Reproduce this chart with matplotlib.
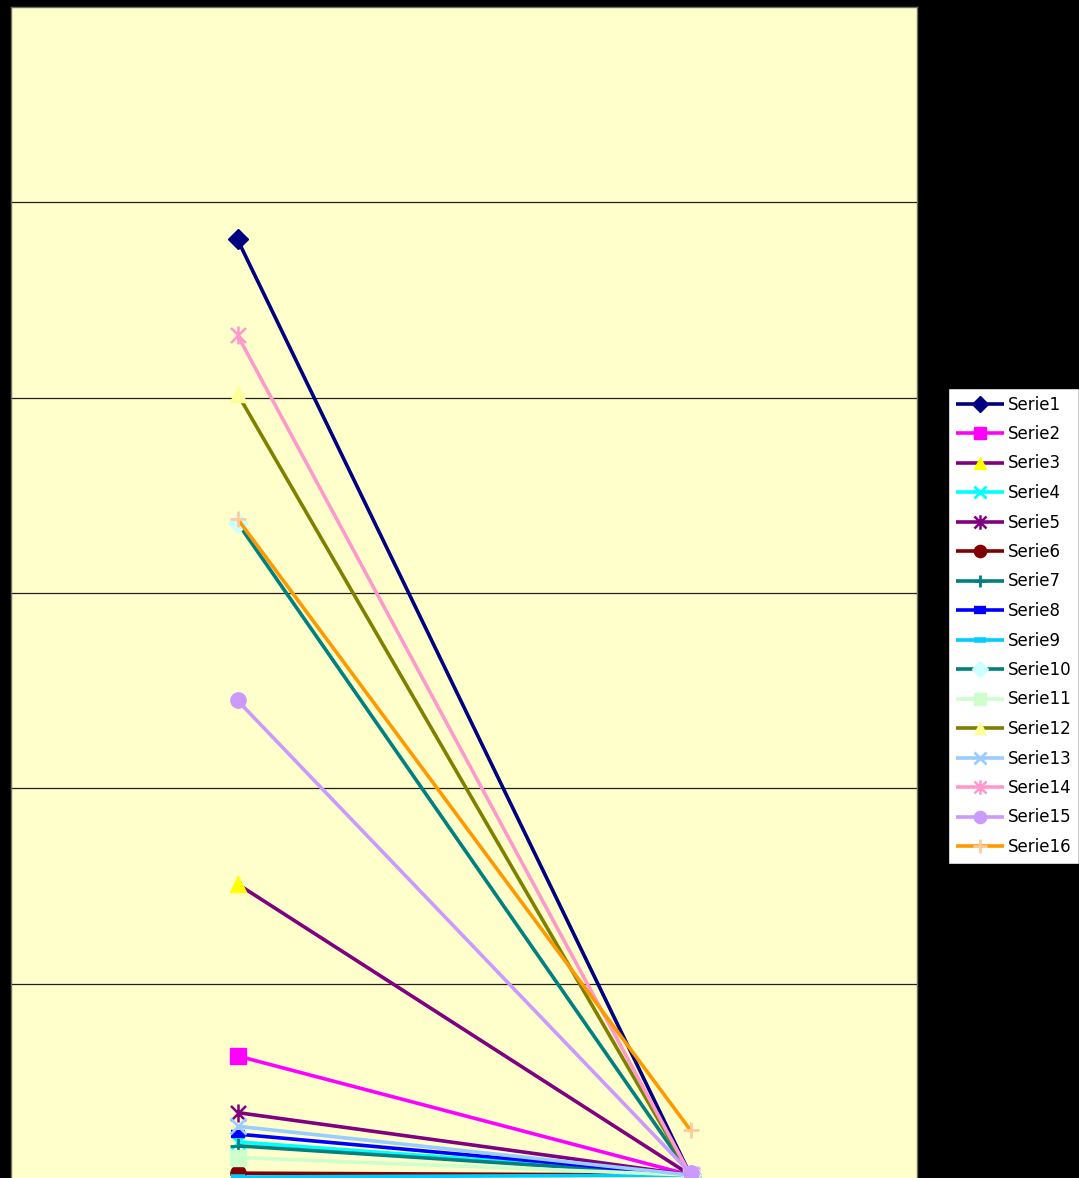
import matplotlib
matplotlib.use("Agg")
import matplotlib.pyplot as plt
from matplotlib.path import Path

# Two categories, sixteen series
categories = ["1", "2"]
series_names = [f"Serie{i}" for i in range(1, 17)]

serie1 = [4.81, 0.02]
serie2 = [0.63, 0.02]
serie3 = [1.51, 0.02]
serie4 = [0.19, 0.02]
serie5 = [0.34, 0.02]
serie6 = [0.03, 0.02]
serie7 = [0.17, 0.02]
serie8 = [0.23, 0.02]
serie9 = [0.01, 0.02]
serie10 = [3.36, 0.02]
serie11 = [0.11, 0.02]
serie12 = [4.02, 0.02]
serie13 = [0.27, 0.02]
serie14 = [4.32, 0.02]
serie15 = [2.45, 0.03]
serie16 = [3.38, 0.25]

values = [serie1, serie2, serie3, serie4, serie5, serie6, serie7, serie8,
          serie9, serie10, serie11, serie12, serie13, serie14, serie15, serie16]

# Asterisk marker: an X crossed by a vertical stroke
ASTER = Path([(-1, -1), (1, 1), (-1, 1), (1, -1), (0, -1.2), (0, 1.2)],
             [Path.MOVETO, Path.LINETO, Path.MOVETO, Path.LINETO,
              Path.MOVETO, Path.LINETO])

# (line colour, marker, marker face colour, marker size, marker edge width)
styles = [
    ("#000080", "D", "#000080", 10, 1),
    ("#FF00FF", "s", "#FF00FF", 11, 1),
    ("#800080", "^", "#FFFF00", 11, 1),
    ("#00FFFF", "x", "#00FFFF", 10, 2),
    ("#800080", ASTER, "#800080", 13, 1.8),
    ("#800000", "o", "#800000", 11, 1),
    ("#008080", "+", "#008080", 11, 2),
    ("#0000FF", "_", "#0000FF", 10, 6),
    ("#00CCFF", "_", "#00CCFF", 10, 4),
    ("#008080", "D", "#CCFFFF", 10, 1),
    ("#CCFFCC", "s", "#CCFFCC", 11, 1),
    ("#808000", "^", "#FFFF99", 11, 1),
    ("#99CCFF", "x", "#99CCFF", 11, 2),
    ("#FF99CC", ASTER, "#FF99CC", 13, 1.8),
    ("#CC99FF", "o", "#CC99FF", 11, 1),
    ("#FF9900", "+", "#FFCC99", 12, 2),
]

W, H = 1079, 1178
fig = plt.figure(figsize=(W / 100, H / 100), dpi=100, facecolor="black")

left, right, top, bottom = 11, 917, 7, 1179
ax = fig.add_axes([left / W, 1 - bottom / H, (right - left) / W, (bottom - top) / H])
ax.set_facecolor("#FFFFCC")

x = list(range(len(categories)))
for name, vals, (lc, mk, mfc, ms, mew) in zip(series_names, values, styles):
    mec = mfc
    ax.plot(x, vals, color=lc, linewidth=2.6, marker=mk, markersize=ms,
            markerfacecolor=mfc, markeredgecolor=mec, markeredgewidth=mew,
            label=name, clip_on=False, solid_capstyle="butt")

ax.set_xlim(-0.5, 1.5)
ax.set_ylim(0, 6)
for g in range(1, 6):
    ax.axhline(g, color="#202020", linewidth=0.9, zorder=0)
ax.set_xticks([])
ax.set_yticks([])
for s in ax.spines.values():
    s.set_color("#707060")
    s.set_linewidth(1)

leg = fig.legend(loc="upper left", bbox_to_anchor=(948 / W, 1 - 388 / H),
                 borderaxespad=0, frameon=True, fancybox=False,
                 edgecolor="black", facecolor="white", framealpha=1,
                 prop={"family": "DejaVu Sans", "size": 12},
                 handlelength=2.9, handletextpad=0.25, labelspacing=0.69,
                 borderpad=0.45, markerscale=0.8)
leg.get_frame().set_linewidth(1)

fig.savefig("out.png", dpi=100, facecolor="black")
